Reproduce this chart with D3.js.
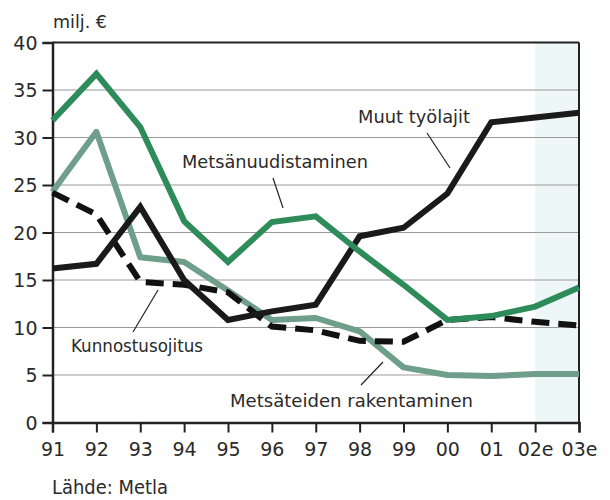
<!DOCTYPE html>
<html><head><meta charset="utf-8">
<script src="https://cdn.jsdelivr.net/npm/d3@7"></script>
<style>body{margin:0;background:#fff}svg{display:block}text{font-family:"DejaVu Sans",sans-serif;fill:#2a2a2a}</style>
</head><body><svg id="c" width="610" height="500"></svg>
<script>
const years = ["91","92","93","94","95","96","97","98","99","00","01","02e","03e"];
const yTicks = [0,5,10,15,20,25,30,35,40];
const metsanuudistaminen = [31.8,36.7,31.1,21.2,16.9,21.1,21.7,18.0,14.5,10.8,11.2,12.2,14.2];
const muutTyolajit = [16.2,16.7,22.7,15.0,10.8,11.7,12.4,19.6,20.5,24.1,31.6,32.1,32.6];
const kunnostusojitus = [24.2,21.9,14.8,14.5,13.7,10.1,9.7,8.6,8.5,10.8,11.1,10.6,10.2];
const metsateiden = [24.3,30.6,17.4,16.9,13.9,10.8,11.0,9.6,5.8,5.0,4.9,5.1,5.1];

const svg = d3.select("#c");
const x = d3.scalePoint().domain(years).range([52.5, 579]);
const y = d3.scaleLinear().domain([0,40]).range([422.5, 42.5]);

svg.append("rect").attr("x", x("02e")).attr("y", y(40)).attr("width", x("03e")-x("02e")).attr("height", y(0)-y(40)).attr("fill", "#eef7f7");

svg.append("g").selectAll("line").data(yTicks.filter(d=>d>0 && d<40)).join("line")
  .attr("x1", x("91")).attr("x2", x("03e")).attr("y1", d=>y(d)).attr("y2", d=>y(d))
  .attr("stroke", "#9a9a9a").attr("stroke-width", 1);

svg.append("line").attr("x1", x("91")).attr("x2", x("03e")).attr("y1", y(40)).attr("y2", y(40)).attr("stroke","#222").attr("stroke-width",2);
svg.append("line").attr("x1", x("03e")).attr("x2", x("03e")).attr("y1", y(40)).attr("y2", y(0)).attr("stroke","#222").attr("stroke-width",2);

const yAxis = d3.axisLeft(y).tickValues(yTicks).tickSize(10).tickPadding(5);
const gy = svg.append("g").attr("transform", `translate(${x("91")},0)`).call(yAxis);
gy.select(".domain").attr("stroke","#222").attr("stroke-width",2.5);
gy.selectAll(".tick line").attr("stroke","#222").attr("stroke-width",2);
gy.selectAll(".tick text").attr("font-size", 19).attr("fill","#2a2a2a").attr("dy","0.36em").style("font-family","DejaVu Sans");

const xAxis = d3.axisBottom(x).tickSize(10).tickPadding(10);
const gx = svg.append("g").attr("transform", `translate(0,${y(0)})`).call(xAxis);
gx.select(".domain").attr("stroke","#222").attr("stroke-width",2.5);
gx.selectAll(".tick line").attr("stroke","#222").attr("stroke-width",2);
gx.selectAll(".tick text").attr("font-size", 19).attr("fill","#2a2a2a").style("font-family","DejaVu Sans");

const line = d3.line().x((d,i)=>x(years[i])).y(d=>y(d));

svg.append("path").datum(metsateiden).attr("d", line).attr("fill","none").attr("stroke","#6f9e8a").attr("stroke-width",6).attr("stroke-linejoin","round");
svg.append("path").datum(kunnostusojitus).attr("d", line).attr("fill","none").attr("stroke","#111").attr("stroke-width",6).attr("stroke-dasharray","18,9");
svg.append("path").datum(muutTyolajit).attr("d", line).attr("fill","none").attr("stroke","#1a1a1a").attr("stroke-width",6).attr("stroke-linejoin","miter");
svg.append("path").datum(metsanuudistaminen).attr("d", line).attr("fill","none").attr("stroke","#2e8b5a").attr("stroke-width",6).attr("stroke-linejoin","miter");

const labels = [
  {t:"milj. €", x:53, y:28, s:17, w:54},
  {t:"Metsänuudistaminen", x:182, y:168, s:18, w:186},
  {t:"Muut työlajit", x:358, y:123, s:18, w:112},
  {t:"Kunnostusojitus", x:71, y:352, s:18, w:132},
  {t:"Metsäteiden rakentaminen", x:230, y:407, s:18, w:243},
  {t:"Lähde: Metla", x:52, y:494, s:19, w:116}
];
svg.append("g").selectAll("text").data(labels).join("text")
  .attr("x", d=>d.x).attr("y", d=>d.y).attr("font-size", d=>d.s)
  .attr("textLength", d=>d.w).attr("lengthAdjust","spacingAndGlyphs").text(d=>d.t);

const leaders = [[273,178,283,208],[427,133,450,168],[133,332,158,290],[361,385,383,362]];
svg.append("g").selectAll("line").data(leaders).join("line")
  .attr("x1",d=>d[0]).attr("y1",d=>d[1]).attr("x2",d=>d[2]).attr("y2",d=>d[3])
  .attr("stroke","#222").attr("stroke-width",1.2);
</script></body></html>
